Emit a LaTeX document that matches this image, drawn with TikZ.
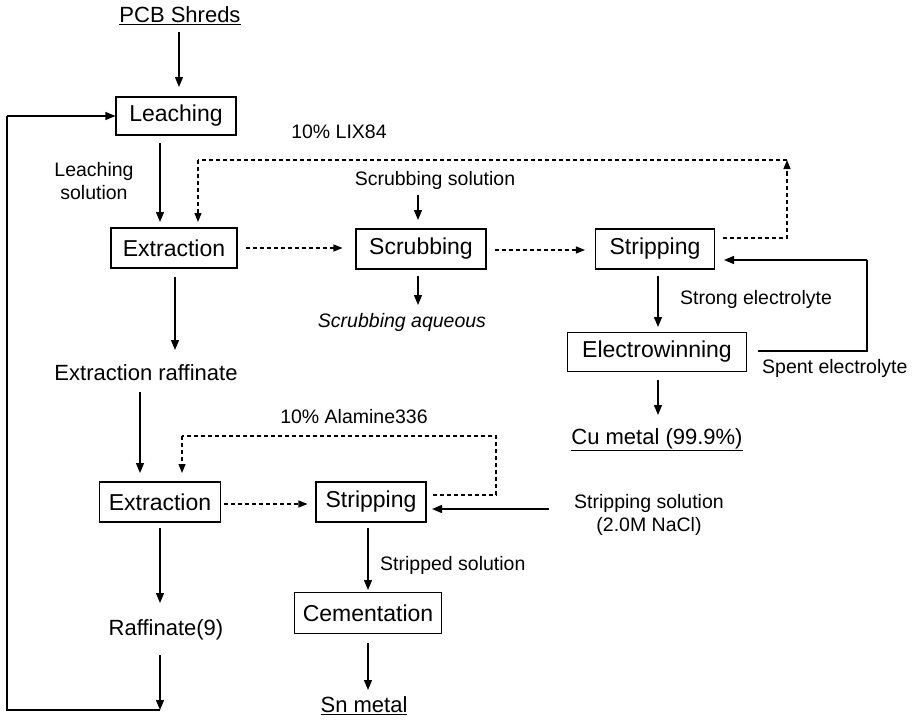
\documentclass[tikz,border=0pt]{standalone}
\usepackage{fontspec}
\setmainfont{Liberation Sans}
\usetikzlibrary{arrows.meta,calc}
\begin{document}
\begin{tikzpicture}[x=1pt,y=-1pt,
  boxst/.style={draw,line width=1.1pt,inner sep=0pt,font=\fontsize{23}{27}\selectfont},
  bigtxt/.style={inner sep=0pt,font=\fontsize{22}{26}\selectfont},
  lbl/.style={inner sep=0pt,font=\fontsize{19.5}{23}\selectfont},
  arr/.style={line width=1.3pt,-{Triangle[length=10pt,width=8pt]}},
  line/.style={line width=1.3pt},
  darr/.style={line width=1.1pt,dash pattern=on 4pt off 3pt,-{Triangle[length=9pt,width=7pt]}},
  dline/.style={line width=1.1pt,dash pattern=on 4pt off 3pt}]
\useasboundingbox (0,0) rectangle (913,720);
% boxes
\node[boxst,minimum width=120pt,minimum height=38pt] (leach) at (176,116) {Leaching};
\node[boxst,minimum width=126pt,minimum height=40pt] (ext1) at (174,248) {Extraction};
\node[boxst,minimum width=130pt,minimum height=40pt] (scrub) at (421,249) {Scrubbing};
\node[boxst,minimum width=119pt,minimum height=40pt] (strip1) at (655,249) {Stripping};
\node[boxst,minimum width=179pt,minimum height=39pt] (ew) at (657,352) {Electrowinning};
\node[boxst,minimum width=121pt,minimum height=40pt] (ext2) at (160,502) {Extraction};
\node[boxst,minimum width=110pt,minimum height=40pt] (strip2) at (371,502) {Stripping};
\node[boxst,minimum width=147pt,minimum height=41pt] (cem) at (368,613) {Cementation};
% texts
\node[bigtxt] (pcb) at (180,16) {\underline{PCB Shreds}};
\node[lbl,align=center] (lsol) at (94,181) {Leaching\\solution};
\node[lbl] (lix) at (339,132) {10\% LIX84};
\node[lbl] (ssol) at (435,180) {Scrubbing solution};
\node[lbl,font=\fontsize{19.5}{23}\selectfont\itshape] (saq) at (402,322) {Scrubbing aqueous};
\node[lbl,anchor=west] (strong) at (680,299) {Strong electrolyte};
\node[lbl,anchor=west] (spent) at (762,368) {Spent electrolyte};
\node[bigtxt] (cu) at (657,440) {\underline{Cu metal (99.9\%)}};
\node[bigtxt] (eraf) at (146,373) {Extraction raffinate};
\node[lbl] (ala) at (354,417) {10\% Alamine336};
\node[lbl,align=center] (nacl) at (649,515) {Stripping solution\\(2.0M NaCl)};
\node[lbl,anchor=west] (stsol) at (380,565) {Stripped solution};
\node[bigtxt] (raf9) at (166,630) {Raffinate(9)};
\node[bigtxt] (sn) at (364,706) {\underline{Sn metal}};
% coordinates
\coordinate (xa) at (179,0);
\coordinate (xb) at (160,0);
\coordinate (xc) at (175,0);
\coordinate (xd) at (140,0);
\coordinate (xe) at (418,0);
\coordinate (xf) at (658,0);
\coordinate (xg) at (368,0);
\coordinate (ya) at (0,248);
\coordinate (yb) at (0,250);
\coordinate (yc) at (0,504);
\coordinate (lixA) at (787,238);
\coordinate (lixB) at (787,160);
\coordinate (lixC) at (198,160);
\coordinate (lixD) at (198,222);
\coordinate (spA) at (867,351);
\coordinate (spB) at (867,260);
\coordinate (spC) at (724,260);
\coordinate (alA) at (496,495);
\coordinate (alB) at (496,436);
\coordinate (alC) at (182,436);
\coordinate (alD) at (182,473);
\coordinate (naA) at (549,509);
\coordinate (naB) at (432,509);
\coordinate (botA) at (160,710);
\coordinate (botB) at (7,710);
\coordinate (botC) at (7,116);
% solid arrows
\draw[arr] (xa |- 0,32) -- (xa |- 0,87);
\draw[line] (botA) -- (botB) -- (botC);
\draw[arr] (botC) -- (leach.west);
\draw[arr] (xb |- 0,143) -- (xb |- 0,222);
\draw[arr] (xe |- 0,195) -- (xe |- 0,220);
\draw[arr] (xe |- 0,276) -- (xe |- 0,305);
\draw[arr] (xf |- 0,276) -- (xf |- 0,327);
\draw[line] (ew.east |- spA) ++(11,0) -- (spA) -- (spB);
\draw[arr] (spB) -- (spC);
\draw[arr] (xf |- 0,380) -- (xf |- 0,415);
\draw[arr] (xc |- 0,277) -- (xc |- 0,350);
\draw[arr] (xd |- 0,392) -- (xd |- 0,473);
\draw[arr] (naA) -- (naB);
\draw[arr] (xg |- 0,528) -- (xg |- 0,590);
\draw[arr] (xg |- 0,643) -- (xg |- 0,690);
\draw[arr] (xb |- 0,528) -- (xb |- 0,603);
\draw[arr] (xb |- 0,655) -- (botA);
% dashed
\draw[dline] (strip1.east |- lixA) ++(8,0) -- (lixA) -- (787,168);
\draw[darr] (787,175) -- (lixB);
\draw[dline] (lixB) -- (lixC);
\draw[darr] (lixC) -- (lixD);
\draw[darr] ($(ext1.east |- ya)+(8,0)$) -- ($(scrub.west |- ya)+(-13,0)$);
\draw[darr] ($(scrub.east |- yb)+(8,0)$) -- ($(strip1.west |- yb)+(-10,0)$);
\draw[dline] ($(strip2.east |- alA)+(6,0)$) -- (alA) -- (alB) -- (alC);
\draw[darr] (alC) -- (alD);
\draw[darr] ($(ext2.east |- yc)+(3,0)$) -- ($(strip2.west |- yc)+(-8,0)$);
\end{tikzpicture}
\end{document}
